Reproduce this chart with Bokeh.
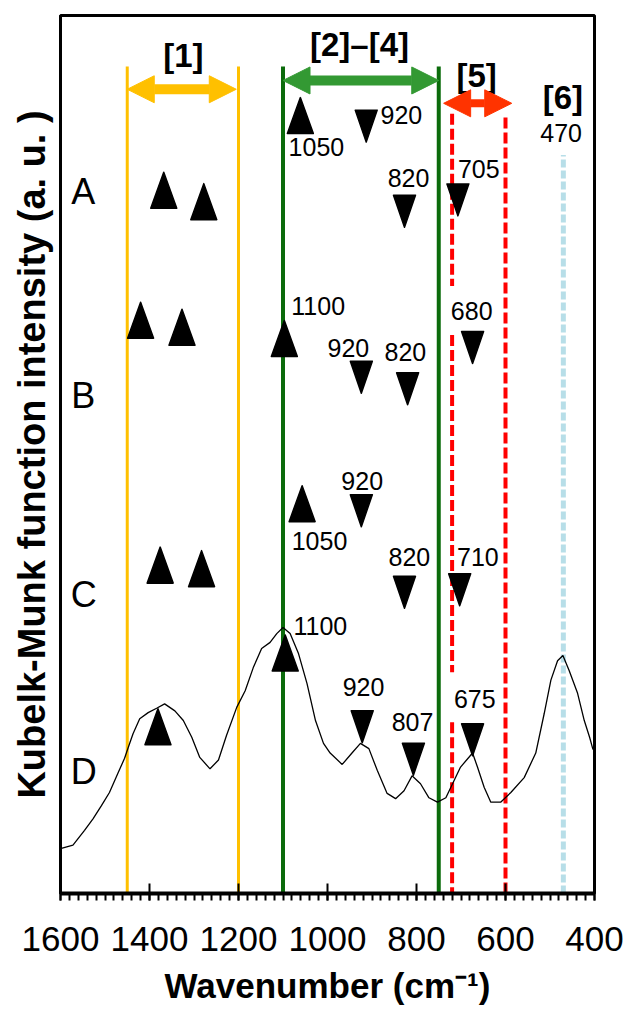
from bokeh.plotting import figure
from bokeh.models import (Range1d, SingleIntervalTicker, FixedTicker, Arrow, NormalHead)
from bokeh.core.properties import value
from bokeh.embed import file_html
from bokeh.resources import INLINE

# ---------------- data ----------------
# Spectrum D (Kubelka-Munk, arbitrary units)
wavenumber = [1600, 1572, 1546, 1527, 1508, 1490, 1471, 1456, 1448, 1437, 1422, 1403,
              1384, 1366, 1343, 1324, 1305, 1287, 1264, 1245, 1227, 1204, 1185, 1167,
              1148, 1129, 1114, 1100, 1084, 1065, 1046, 1027, 1009, 994, 967, 945, 926,
              907, 888, 866, 847, 828, 810, 791, 772, 753, 734, 719, 701, 674, 663, 648,
              633, 611, 588, 558, 532, 513, 498, 483, 471, 457, 438, 423, 411, 404, 400]
intensity_D = [5.1, 5.5, 7.2, 8.5, 10.0, 11.5, 13.7, 15.4, 16.6, 18.2, 19.9, 20.6,
               21.1, 21.6, 20.8, 19.7, 17.8, 15.5, 14.2, 15.2, 18.0, 21.2, 23.1, 25.7,
               27.9, 28.6, 29.6, 30.3, 29.6, 27.3, 23.9, 19.7, 17.1, 16.0, 14.7, 16.0, 17.1,
               16.5, 14.0, 11.4, 10.8, 11.7, 13.4, 12.5, 10.9, 10.4, 10.9, 12.5, 14.4, 16.0,
               14.4, 12.1, 10.4, 10.4, 11.5, 13.2, 16.0, 20.5, 24.3, 26.5, 27.1, 25.4, 22.8,
               19.7, 17.8, 16.5, 16.2]

# Up-pointing band markers
up_x = [1368, 1278, 1061, 1420, 1327, 1097, 1376, 1283, 1057, 1381, 1095]
up_y = [80.1, 78.8, 88.6, 65.3, 64.5, 63.2, 37.4, 37.0, 44.4, 19.0, 27.4]

# Down-pointing band markers
down_x = [913, 827, 707, 924, 820, 674, 924, 827, 703, 922, 807, 674]
down_y = [87.4, 77.7, 79.0, 58.8, 57.5, 62.2, 43.6, 34.3, 34.6, 19.0, 15.3, 17.5]

# Band value labels
band_text = ["1050", "920", "820", "705",
             "1100", "920", "820", "680",
             "920", "1050", "820", "710",
             "1100", "920", "807", "675", "470"]
band_x = [1025, 834, 818, 660,
          1021, 953, 825, 676,
          922, 1018, 816, 662,
          1016, 919, 809, 669, 475]
band_y = [85.0, 88.7, 81.5, 82.5,
          66.9, 62.1, 61.7, 66.4,
          47.0, 40.1, 38.3, 38.3,
          30.5, 23.5, 19.5, 22.1, 86.6]

# Sample row letters
row_text = ["A", "B", "C", "D"]
row_x = [1549, 1549, 1548, 1548]
row_y = [80.0, 56.7, 34.1, 13.9]

# Region labels
region_text = ["[1]", "[2]\u2013[4]", "[5]", "[6]"]
region_x = [1324, 928, 665, 471]
region_y = [95.4, 96.7, 93.2, 90.7]

# Region boundary lines
orange_lines = [1450, 1200]
green_lines = [1100, 750]
red_lines = [720, 600]
blue_line = [470]

# ---------------- figure ----------------
W, H = 625, 1013
p = figure(width=W, height=H, x_range=Range1d(1600, 400), y_range=Range1d(0, 100),
           output_backend="svg", toolbar_location=None,
           min_border_left=60, min_border_right=31, min_border_top=15,
           min_border_bottom=H - 893)
p.grid.visible = False
p.outline_line_color = "black"
p.outline_line_width = 3
p.outline_line_alpha = 1.0
p.background_fill_color = "white"
p.border_fill_color = "white"

xa = p.xaxis[0]
xa.ticker = SingleIntervalTicker(interval=200, num_minor_ticks=10)
xa.axis_line_width = 4
xa.axis_line_color = "black"
xa.major_tick_in = 10
xa.major_tick_out = 7
xa.major_tick_line_width = 2
xa.major_tick_line_color = "black"
xa.minor_tick_in = 0
xa.minor_tick_out = 7
xa.minor_tick_line_width = 2
xa.minor_tick_line_color = "black"
xa.major_label_text_font = "Liberation Sans"
xa.major_label_text_font_size = "35px"
xa.major_label_text_color = "black"
xa.major_label_standoff = 26
xa.axis_label = "Wavenumber (cm\u207b\u00b9)"
xa.axis_label_text_font = "Liberation Sans"
xa.axis_label_text_font_style = "bold"
xa.axis_label_text_font_size = "35px"
xa.axis_label_text_color = "black"
xa.axis_label_standoff = 12

ya = p.yaxis[0]
ya.ticker = FixedTicker(ticks=[])
ya.major_tick_in = 0
ya.major_tick_out = 0
ya.minor_tick_in = 0
ya.minor_tick_out = 0
ya.axis_line_color = "black"
ya.axis_line_width = 3
ya.major_label_standoff = 0
ya.axis_label = "Kubelk-Munk function intensity (a. u. )"
ya.axis_label_text_font = "Liberation Sans"
ya.axis_label_text_font_style = "bold"
ya.axis_label_text_font_size = "38px"
ya.axis_label_text_color = "black"
ya.axis_label_standoff = 8

# vertical region lines
top_solid = 94.2
p.segment(x0=orange_lines, y0=[0] * 2, x1=orange_lines, y1=[top_solid] * 2,
          line_color="#FFC000", line_width=3)
p.segment(x0=green_lines, y0=[0] * 2, x1=green_lines, y1=[top_solid] * 2,
          line_color="#0B6B0B", line_width=4)
# red dashed: left one is interrupted behind two labels
red_x0 = [red_lines[0], red_lines[0], red_lines[0], red_lines[1]]
red_ya = [88.8, 63.6, 19.5, 0]
red_yb = [69.2, 25.2, 0, 88.8]
p.segment(x0=red_x0, y0=red_ya, x1=red_x0, y1=red_yb,
          line_color="#FF0000", line_width=4, line_dash="11 4")
p.segment(x0=blue_line, y0=[0], x1=blue_line, y1=[84.1],
          line_color="#B7DEE8", line_width=5, line_dash="8 3")

# spectrum D
p.line(wavenumber, intensity_D, line_color="black", line_width=1.3)

# triangles, built around marker centres
sx = (1600 - 400) / 534.0   # data units per pixel in x
sy = 100 / 878.0            # data units per pixel in y
uw, uh = 13 * sx, 18 * sy
dw, dh = 11 * sx, 16 * sy
up_xs = [[x - uw, x + uw, x] for x in up_x]
up_ys = [[y - uh, y - uh, y + uh] for y in up_y]
dn_xs = [[x - dw, x + dw, x] for x in down_x]
dn_ys = [[y + dh, y + dh, y - dh] for y in down_y]
p.patches(up_xs + dn_xs, up_ys + dn_ys, fill_color="black", line_color="black",
          line_width=1.5, line_join="round")

# arrows
def dbl_arrow(x0, x1, y, color, lw):
    p.add_layout(Arrow(start=NormalHead(size=27, fill_color=color, line_color=color),
                       end=NormalHead(size=27, fill_color=color, line_color=color),
                       x_start=x0, y_start=y, x_end=x1, y_end=y,
                       line_color=color, line_width=lw))

dbl_arrow(orange_lines[0], orange_lines[1] + 5, 91.6, "#FFC000", 10)
dbl_arrow(green_lines[0], green_lines[1], 92.6, "#339933", 10)
dbl_arrow(739, 586, 90.0, "#FF3300", 8)

# texts
p.text(x=band_x, y=band_y, text=band_text, text_font=value("Liberation Sans"),
       text_font_size=value("25px"), text_align="center", text_baseline="middle",
       text_color="black")
p.text(x=row_x, y=row_y, text=row_text, text_font=value("Liberation Sans"),
       text_font_size=value("36px"), text_align="center", text_baseline="middle",
       text_color="black")
p.text(x=region_x, y=region_y, text=region_text, text_font=value("Liberation Sans"),
       text_font_size=value("33px"), text_font_style="bold", text_align="center",
       text_baseline="middle", text_color="black")

open("out.html", "w").write(file_html(p, INLINE))
